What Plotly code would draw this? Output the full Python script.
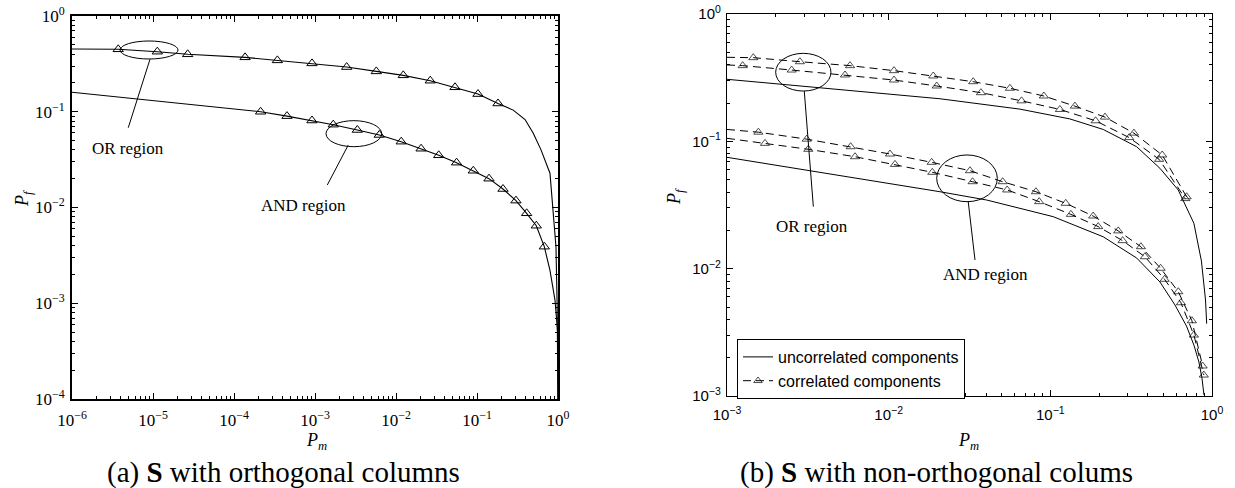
import numpy as np
import plotly.graph_objects as go

W, H = 1235, 488

# ---------------- (a) S with orthogonal columns ----------------
a_or_line_pm = [1e-6, 3.72e-6, 1.13e-5, 2.68e-5, 1.37e-4, 3.43e-4, 9.18e-4, 2.46e-3, 5.71e-3,
                1.23e-2, 2.65e-2, 5.35e-2, 0.1028, 0.1816, 0.28, 0.392, 0.495, 0.617, 0.796,
                0.944, 0.975, 0.998]
a_or_line_pf = [0.452, 0.449, 0.424, 0.398, 0.370, 0.344, 0.320, 0.293, 0.264,
                0.240, 0.211, 0.180, 0.153, 0.122, 0.104, 0.083, 0.0596, 0.040, 0.0228,
                0.0039, 0.001, 0.0001]
a_or_mark_pm = [3.72e-6, 1.13e-5, 2.68e-5, 1.37e-4, 3.43e-4, 9.18e-4, 2.46e-3, 5.71e-3,
                1.23e-2, 2.65e-2, 5.35e-2, 0.1028, 0.1816]
a_or_mark_pf = [0.449, 0.424, 0.398, 0.370, 0.344, 0.320, 0.293, 0.264,
                0.240, 0.211, 0.180, 0.153, 0.122]

a_and_line_pm = [1e-6, 3.8e-5, 2.13e-4, 4.51e-4, 9.18e-4, 1.68e-3, 3.33e-3, 6.22e-3, 1.16e-2,
                 2.04e-2, 3.37e-2, 5.6e-2, 9.0e-2, 0.1406, 0.2094, 0.3027, 0.41, 0.5395,
                 0.6776, 0.796, 0.918, 0.99, 0.999]
a_and_line_pf = [0.160, 0.115, 0.100, 0.090, 0.081, 0.0733, 0.0645, 0.0572, 0.0487,
                 0.0411, 0.0351, 0.0294, 0.0242, 0.0200, 0.0156, 0.0118, 0.0087, 0.00645,
                 0.0039, 0.0022, 0.00108, 0.0005, 0.0001]
a_and_mark_pm = [2.13e-4, 4.51e-4, 9.18e-4, 1.68e-3, 3.33e-3, 6.22e-3, 1.16e-2,
                 2.04e-2, 3.37e-2, 5.6e-2, 9.0e-2, 0.1406, 0.2094, 0.3027, 0.41, 0.5395, 0.6776]
a_and_mark_pf = [0.100, 0.090, 0.081, 0.0733, 0.0645, 0.0572, 0.0487,
                 0.0411, 0.0351, 0.0294, 0.0242, 0.0200, 0.0156, 0.0118, 0.0087, 0.00645, 0.0039]

# ---------------- (b) S with non-orthogonal colums ----------------
b_unc_or_pm = [0.001, 0.00453, 0.02075, 0.0649, 0.132, 0.2123, 0.342, 0.4764, 0.618, 0.7727,
               0.86, 0.912, 0.927]
b_unc_or_pf = [0.307, 0.258, 0.216, 0.179, 0.150, 0.124, 0.0907, 0.0614, 0.0415, 0.0227,
               0.0115, 0.00567, 0.0037]

b_unc_and_pm = [0.001, 0.00453, 0.02075, 0.0404, 0.1042, 0.2123, 0.342, 0.4764, 0.590,
                0.695, 0.773, 0.830, 0.867, 0.892]
b_unc_and_pf = [0.0749, 0.0551, 0.0402, 0.0346, 0.0256, 0.0178, 0.01213, 0.00786, 0.00519,
                0.00355, 0.00251, 0.00185, 0.00138, 0.00102]

b_cor_or_hi_pm = [0.001, 0.001455, 0.002825, 0.005768, 0.01079, 0.01888, 0.03334, 0.05623,
                  0.0912, 0.1419, 0.2178, 0.3289, 0.492, 0.6966]
b_cor_or_hi_pf = [0.457, 0.454, 0.422, 0.393, 0.359, 0.326, 0.294, 0.261,
                  0.227, 0.189, 0.155, 0.116, 0.0781, 0.0367]

b_cor_or_lo_pm = [0.001, 0.00125, 0.002512, 0.00537, 0.01079, 0.01982, 0.03724, 0.06637,
                  0.1146, 0.1905, 0.3076, 0.471, 0.6839]
b_cor_or_lo_pf = [0.398, 0.393, 0.363, 0.332, 0.303, 0.272, 0.241, 0.208,
                  0.178, 0.145, 0.107, 0.0722, 0.0355]

b_cor_and_hi_pm = [0.001, 0.001563, 0.003112, 0.005821, 0.01019, 0.01845, 0.03184, 0.0507,
                   0.08147, 0.1245, 0.1841, 0.263, 0.3634, 0.4809, 0.6188, 0.7511, 0.8748]
b_cor_and_hi_pf = [0.124, 0.118, 0.104, 0.0907, 0.0795, 0.0684, 0.0588, 0.0482,
                   0.0402, 0.0326, 0.0259, 0.0198, 0.01488, 0.01007, 0.00659, 0.0039, 0.00172]

b_cor_and_lo_pm = [0.001, 0.001718, 0.003184, 0.006194, 0.01094, 0.01862, 0.03304, 0.05408,
                   0.08531, 0.134, 0.1977, 0.2799, 0.3846, 0.5091, 0.6423, 0.7729, 0.8898]
b_cor_and_lo_pf = [0.1056, 0.0964, 0.0866, 0.0757, 0.0659, 0.0571, 0.0482, 0.0415,
                   0.0336, 0.0267, 0.0214, 0.0166, 0.01241, 0.00825, 0.0054, 0.00301, 0.00146]

# region annotations: ellipse bounds, leader line ends, label anchor (data units)
a_or_ell = dict(x=[3.917e-6, 2.037e-5], y=[0.3556, 0.5483])
a_or_lead = dict(x=[9.18e-6, 4.95e-6], y=[0.3532, 0.0681])
a_or_text = dict(x=4.91e-6, y=0.0418)
a_and_ell = dict(x=[1.368e-3, 6.65e-3], y=[0.04315, 0.0807])
a_and_lead = dict(x=[2.576e-3, 1.419e-3], y=[0.04498, 0.01718])
a_and_text = dict(x=7.18e-4, y=0.01062)
b_or_ell = dict(x=[2.0e-3, 4.395e-3], y=[0.2483, 0.4909])
b_or_lead = dict(x=[3.006e-3, 3.42e-3], y=[0.2483, 0.0307])
b_or_text = dict(x=3.34e-3, y=0.02163)
b_and_ell = dict(x=[0.01982, 0.04699], y=[0.03357, 0.07816])
b_and_lead = dict(x=[0.03105, 0.0342], y=[0.03357, 0.0117])
b_and_text = dict(x=0.03945, y=0.00908)

a_x_exps = [-6, -5, -4, -3, -2, -1, 0]
a_y_exps = [-4, -3, -2, -1, 0]
b_x_exps = [-3, -2, -1, 0]
b_y_exps = [-3, -2, -1, 0]


def plab(e):
    return "10<sup>" + ("\u2212" + str(-e) if e < 0 else str(e)) + "</sup>"


def minor_vals(exps):
    return [m * 10.0 ** e for e in exps[:-1] for m in range(2, 10)]


SERIF = "Liberation Serif"
SANS = "Liberation Sans"

fig = go.Figure()

line_style = dict(color="black", width=1.1)
tri = dict(symbol="triangle-up-open", color="black", size=9, line=dict(color="black", width=1))

# (a)
fig.add_trace(go.Scatter(x=a_or_line_pm, y=a_or_line_pf, mode="lines", line=line_style,
                         showlegend=False, xaxis="x", yaxis="y"))
fig.add_trace(go.Scatter(x=a_or_mark_pm, y=a_or_mark_pf, mode="markers", marker=tri,
                         showlegend=False, xaxis="x", yaxis="y"))
fig.add_trace(go.Scatter(x=a_and_line_pm, y=a_and_line_pf, mode="lines", line=line_style,
                         showlegend=False, xaxis="x", yaxis="y"))
fig.add_trace(go.Scatter(x=a_and_mark_pm, y=a_and_mark_pf, mode="markers", marker=tri,
                         showlegend=False, xaxis="x", yaxis="y"))

# (b)
fig.add_trace(go.Scatter(x=b_unc_or_pm, y=b_unc_or_pf, mode="lines", line=dict(color="black", width=1),
                         name="uncorrelated components", showlegend=True,
                         xaxis="x2", yaxis="y2"))
fig.add_trace(go.Scatter(x=b_unc_and_pm, y=b_unc_and_pf, mode="lines", line=dict(color="black", width=1),
                         name="uncorrelated components", showlegend=False,
                         xaxis="x2", yaxis="y2"))
first = True
for px_, py_ in [(b_cor_or_hi_pm, b_cor_or_hi_pf), (b_cor_or_lo_pm, b_cor_or_lo_pf),
                 (b_cor_and_hi_pm, b_cor_and_hi_pf), (b_cor_and_lo_pm, b_cor_and_lo_pf)]:
    sizes = [0] + [8] * (len(px_) - 1)
    fig.add_trace(go.Scatter(x=px_, y=py_, mode="lines+markers",
                             line=dict(color="black", width=1, dash="8px,5px"),
                             marker=dict(symbol="triangle-up-open", color="black", size=sizes,
                                         line=dict(color="black", width=1)),
                             name="correlated components", showlegend=first,
                             xaxis="x2", yaxis="y2"))
    first = False


def axis_common(dom, exps, font, lw, anchor, standoff):
    return dict(type="log", domain=dom, range=[exps[0], exps[-1]], tickmode="array",
                tickvals=[10.0 ** e for e in exps], ticktext=[plab(e) for e in exps],
                ticks="inside", ticklen=6, tickwidth=1, tickcolor="black",
                minor=dict(tickmode="array", tickvals=minor_vals(exps), ticks="inside",
                           ticklen=3, tickwidth=1, tickcolor="black", showgrid=False),
                showline=True, linecolor="black", linewidth=lw, mirror="allticks",
                showgrid=False, zeroline=False, tickfont=font, anchor=anchor, automargin=False,
                ticklabelstandoff=standoff)


a_font = dict(family=SERIF, size=17, color="black")
b_font = dict(family=SANS, size=15, color="black")

fig.update_layout(
    xaxis=axis_common([72 / W, 558 / W], a_x_exps, a_font, 2, "y", 5),
    yaxis=axis_common([1 - 399 / H, 1 - 16 / H], a_y_exps, a_font, 2, "x", 2),
    xaxis2=axis_common([727 / W, 1212 / W], b_x_exps, b_font, 1.3, "y2", 5),
    yaxis2=axis_common([1 - 396 / H, 1 - 14 / H], b_y_exps, b_font, 1.3, "x2", 2),
)

shapes = []
anns = []
txt_font = dict(family=SERIF, size=17, color="black")
for ell, lead, tx, label, xr, yr in [
    (a_or_ell, a_or_lead, a_or_text, "OR region", "x", "y"),
    (a_and_ell, a_and_lead, a_and_text, "AND region", "x", "y"),
    (b_or_ell, b_or_lead, b_or_text, "OR region", "x2", "y2"),
    (b_and_ell, b_and_lead, b_and_text, "AND region", "x2", "y2"),
]:
    shapes.append(dict(type="circle", xref=xr, yref=yr, x0=ell["x"][0], x1=ell["x"][1],
                       y0=ell["y"][0], y1=ell["y"][1], line=dict(color="black", width=1)))
    shapes.append(dict(type="line", xref=xr, yref=yr, x0=lead["x"][0], x1=lead["x"][1],
                       y0=lead["y"][0], y1=lead["y"][1], line=dict(color="black", width=1)))
    anns.append(dict(text=label, xref=xr, yref=yr, x=np.log10(tx["x"]), y=np.log10(tx["y"]),
                     showarrow=False, xanchor="center", yanchor="middle", font=txt_font))

lab_font = dict(family=SERIF, size=18, color="black")
pf = "<i>P</i><sub><i>f</i></sub>"
pm = "<i>P</i><sub><i>m</i></sub>"
anns += [
    dict(text=pf, xref="paper", yref="paper", x=23 / W, y=1 - 199 / H, textangle=-90,
         showarrow=False, xanchor="center", yanchor="middle", font=lab_font),
    dict(text=pf, xref="paper", yref="paper", x=675 / W, y=1 - 197 / H, textangle=-90,
         showarrow=False, xanchor="center", yanchor="middle", font=lab_font),
    dict(text=pm, xref="paper", yref="paper", x=316 / W, y=1 - 441 / H,
         showarrow=False, xanchor="center", yanchor="middle", font=lab_font),
    dict(text=pm, xref="paper", yref="paper", x=968 / W, y=1 - 441 / H,
         showarrow=False, xanchor="center", yanchor="middle", font=lab_font),
    dict(text="(a) <b>S</b> with orthogonal columns", xref="paper", yref="paper",
         x=283 / W, y=1 - 472 / H, showarrow=False, xanchor="center", yanchor="middle",
         font=dict(family=SERIF, size=29, color="black")),
    dict(text="(b) <b>S</b> with non-orthogonal colums", xref="paper", yref="paper",
         x=936 / W, y=1 - 472 / H, showarrow=False, xanchor="center", yanchor="middle",
         font=dict(family=SERIF, size=29, color="black")),
]

fig.update_layout(
    width=W, height=H, margin=dict(l=0, r=0, t=0, b=0),
    paper_bgcolor="white", plot_bgcolor="white",
    shapes=shapes, annotations=anns,
    legend=dict(x=737 / W, y=1 - 339 / H, xanchor="left", yanchor="top",
                bgcolor="white", bordercolor="black", borderwidth=1,
                font=dict(family=SANS, size=16, color="black"),
                tracegroupgap=0, itemwidth=30),
)

fig.write_html("out.html")
